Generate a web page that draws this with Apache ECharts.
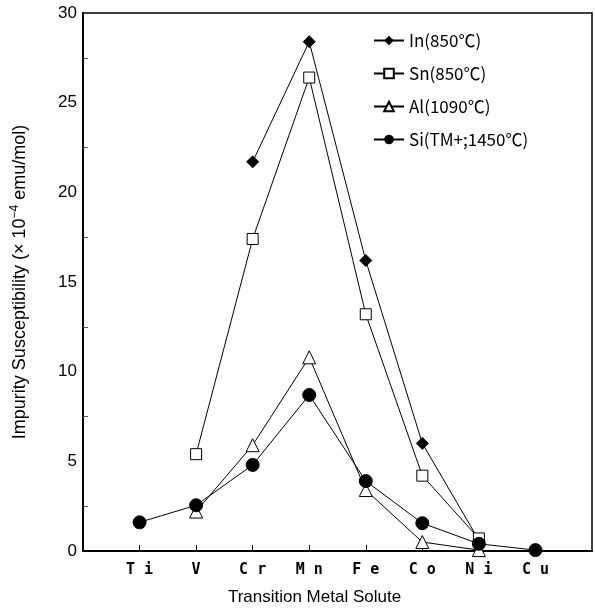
<!DOCTYPE html>
<html>
<head>
<meta charset="utf-8">
<script src="https://cdn.jsdelivr.net/npm/echarts@6/dist/echarts.min.js"></script>
<style>
  html, body { margin: 0; padding: 0; background: #fff; }
  #chart { width: 595px; height: 611px; }
</style>
</head>
<body>
<div id="chart"></div>
<script>
// 横轴元素
const categories = ['Ti', 'V', 'Cr', 'Mn', 'Fe', 'Co', 'Ni', 'Cu']
const xLabels = ['T i', 'V', 'C r', 'M n', 'F e', 'C o', 'N i', 'C u']
// 各溶质的数据 (null = 无数据)
const inData = [null, null, 21.7, 28.4, 16.2, 6.0, 0.6, null]
const snData = [null, 5.4, 17.4, 26.4, 13.2, 4.2, 0.7, null]
const alData = [null, 2.2, 5.9, 10.8, 3.4, 0.5, 0.05, null]
const siData = [1.6, 2.55, 4.8, 8.7, 3.9, 1.55, 0.4, 0.05]
const seriesNames = ['In(850℃)', 'Sn(850℃)', 'Al(1090℃)', 'Si(TM+;1450℃)']
const yTicks = [0, 5, 10, 15, 20, 25, 30]

// 两端留空的类目
const axisData = [''].concat(categories, [''])
const pad = arr => [null].concat(arr, [null])

const lineStyle = { color: '#000', width: 1 }

const chart = echarts.init(document.getElementById('chart'))
chart.setOption({
  animation: false,
  textStyle: { fontFamily: 'Liberation Sans, Arial', color: '#000' },
  grid: {
    left: 83,
    top: 13,
    right: 3,
    bottom: 60,
    show: true,
    borderColor: '#000',
    borderWidth: 1.5
  },
  legend: {
    orient: 'vertical',
    left: 368,
    top: 27,
    itemWidth: 30,
    itemHeight: 12,
    itemGap: 16,
    textStyle: {
      fontFamily: 'Noto Sans CJK JP',
      fontSize: 17,
      color: '#000'
    },
    data: seriesNames
  },
  xAxis: {
    type: 'category',
    boundaryGap: false,
    data: axisData,
    name: 'Transition Metal Solute',
    nameLocation: 'middle',
    nameGap: 38,
    nameTextStyle: { fontSize: 17, color: '#000', padding: [0, 46, 0, 0] },
    axisLine: { lineStyle: { color: '#000', width: 2 } },
    axisTick: {
      inside: true,
      length: 6,
      lineStyle: { color: '#000', width: 1 },
      interval: (i, v) => v !== ''
    },
    axisLabel: {
      interval: 0,
      margin: 12,
      fontSize: 15,
      fontWeight: 'bold',
      fontFamily: 'DejaVu Sans Mono',
      color: '#000',
      formatter: v => {
        const i = categories.indexOf(v)
        return i >= 0 ? xLabels[i] : ''
      }
    },
    splitLine: { show: false }
  },
  yAxis: {
    type: 'value',
    min: 0,
    max: 30,
    interval: 5,
    name: 'Impurity Susceptibility (× 10{sup|−4} emu/mol)',
    nameLocation: 'middle',
    nameGap: 52,
    nameTextStyle: {
      fontSize: 18,
      color: '#000',
      rich: {
        sup: { fontSize: 12, verticalAlign: 'bottom', padding: [0, 0, 10, 0], color: '#000' }
      }
    },
    axisLine: { show: true, lineStyle: { color: '#000', width: 2 } },
    axisTick: { inside: true, length: 7, lineStyle: { color: '#000' } },
    minorTick: { show: true, splitNumber: 2, length: 5, lineStyle: { color: '#555' } },
    axisLabel: {
      margin: 6,
      fontSize: 17,
      color: '#000',
      formatter: v => (yTicks.indexOf(v) >= 0 ? String(v) : '')
    },
    splitLine: { show: false }
  },
  series: [
    {
      name: seriesNames[0],
      type: 'line',
      data: pad(inData),
      symbol: 'diamond',
      symbolSize: 12,
      lineStyle: lineStyle,
      itemStyle: { color: '#000', borderColor: '#000' }
    },
    {
      name: seriesNames[1],
      type: 'line',
      data: pad(snData),
      symbol: 'rect',
      symbolSize: 11,
      lineStyle: lineStyle,
      itemStyle: { color: '#fff', borderColor: '#000', borderWidth: 1 }
    },
    {
      name: seriesNames[2],
      type: 'line',
      data: pad(alData),
      symbol: 'triangle',
      symbolSize: 13,
      lineStyle: lineStyle,
      itemStyle: { color: '#fff', borderColor: '#000', borderWidth: 1 }
    },
    {
      name: seriesNames[3],
      type: 'line',
      data: pad(siData),
      symbol: 'circle',
      symbolSize: 13,
      lineStyle: lineStyle,
      itemStyle: { color: '#000', borderColor: '#000' }
    }
  ]
})
</script>
</body>
</html>
